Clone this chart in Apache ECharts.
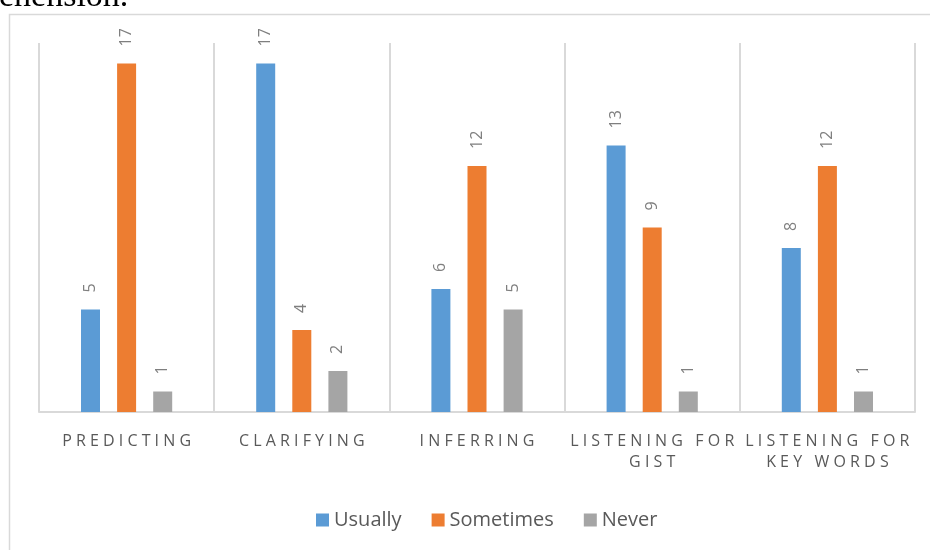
<!DOCTYPE html>
<html>
<head>
<meta charset="utf-8">
<style>
  html, body { margin: 0; padding: 0; background: #ffffff; }
  #chart { width: 930px; height: 550px; }
</style>
<script src="https://cdn.jsdelivr.net/npm/echarts@6/dist/echarts.min.js"></script>
</head>
<body>
<div id="chart"></div>
<script>
// Listening strategies and how often students use them
const categories = ['PREDICTING', 'CLARIFYING', 'INFERRING', 'LISTENING FOR\nGIST', 'LISTENING FOR\nKEY WORDS'];
const usually = [5, 17, 6, 13, 8];
const sometimes = [17, 4, 12, 9, 12];
const never = [1, 2, 5, 1, 1];
const seriesNames = ['Usually', 'Sometimes', 'Never'];
const colors = ['#5B9BD5', '#ED7D31', '#A5A5A5'];

// spread capitals apart the way the axis titles are tracked out
function spaced(label) {
  return label.split('\n').map(line =>
    line.split(' ').map(w => w.split('').join(' ')).join('   ')
  ).join('\n');
}

const chart = echarts.init(document.getElementById('chart'), null, { renderer: 'canvas' });

const labelCfg = {
  show: true,
  position: 'top',
  rotate: 90,
  align: 'left',
  verticalAlign: 'middle',
  distance: 17,
  color: '#7F7F7F',
  fontSize: 16,
  fontFamily: 'Open Sans'
};

function barSeries(name, data, color) {
  return {
    name: name,
    type: 'bar',
    data: data,
    barWidth: 19,
    barGap: '90%',
    itemStyle: { color: color },
    label: labelCfg,
    emphasis: { disabled: true }
  };
}

chart.setOption({
  animation: false,
  color: colors,
  graphic: [
    {
      type: 'rect',
      shape: { x: 9.5, y: 14.5, width: 940, height: 560 },
      style: { fill: 'none', stroke: '#D9D9D9', lineWidth: 1.5 },
      silent: true
    },
    {
      type: 'text',
      left: -1,
      top: -20,
      style: {
        text: 'ehension.',
        font: '34px "Liberation Serif", "DejaVu Serif", serif',
        fill: '#000000'
      },
      silent: true
    }
  ],
  grid: { left: 39, right: 15, top: 43, bottom: 138, containLabel: false },
  legend: {
    data: seriesNames,
    left: 311,
    top: 505,
    itemWidth: 13,
    itemHeight: 13,
    itemGap: 30,
    icon: 'rect',
    textStyle: { color: '#595959', fontSize: 20, fontFamily: 'Open Sans' }
  },
  xAxis: {
    type: 'category',
    data: categories,
    axisLine: { show: true, lineStyle: { color: '#D9D9D9', width: 2 } },
    axisTick: { show: false },
    splitLine: { show: true, lineStyle: { color: '#D9D9D9', width: 2 } },
    axisLabel: {
      interval: 0,
      margin: 19,
      color: '#595959',
      fontSize: 16,
      lineHeight: 21,
      fontFamily: 'Open Sans',
      formatter: v => spaced(v)
    }
  },
  yAxis: {
    type: 'value',
    min: 0,
    max: 18,
    show: false,
    splitLine: { show: false }
  },
  series: [
    barSeries(seriesNames[0], usually, colors[0]),
    barSeries(seriesNames[1], sometimes, colors[1]),
    barSeries(seriesNames[2], never, colors[2])
  ]
});
</script>
</body>
</html>
